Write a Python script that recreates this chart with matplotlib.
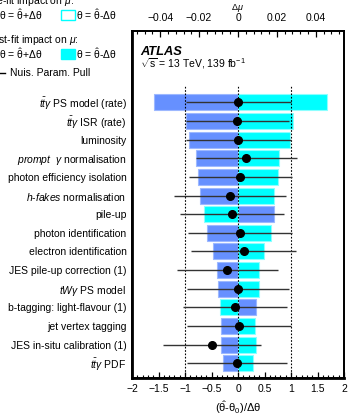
import matplotlib
matplotlib.use("Agg")
import matplotlib.pyplot as plt
from matplotlib.patches import Rectangle
from matplotlib.ticker import MultipleLocator, FuncFormatter

plt.rcParams['font.family'] = ['Liberation Sans', 'DejaVu Sans']
plt.rcParams['mathtext.fontset'] = 'custom'
plt.rcParams['mathtext.rm'] = 'Liberation Sans'
plt.rcParams['mathtext.it'] = 'Liberation Sans:italic'
plt.rcParams['mathtext.bf'] = 'Liberation Sans:bold'

# Nuisance parameters, top to bottom
params = [
    r"$t\bar{t}\gamma$ PS model (rate)",
    r"$t\bar{t}\gamma$ ISR (rate)",
    "luminosity",
    r"$prompt$  $\gamma$ normalisation",
    "photon efficiency isolation",
    r"$h$-$fakes$ normalisation",
    "pile-up",
    "photon identification",
    "electron identification",
    "JES pile-up correction (1)",
    r"$tW\gamma$ PS model",
    "b-tagging: light-flavour (1)",
    "jet vertex tagging",
    "JES in-situ calibration (1)",
    r"$t\bar{t}\gamma$ PDF",
]

# Post-fit impact on mu (signed), for theta = theta_hat + dtheta / theta_hat - dtheta
impact_up = [-0.0433, -0.0269, -0.0250, -0.0215, -0.0205, -0.0195, 0.0183, -0.0161,
             -0.0130, -0.0106, -0.0105, 0.0095, -0.0086, -0.0087, -0.0079]
impact_down = [0.0456, 0.0285, 0.0268, 0.0213, 0.0208, 0.0186, -0.0176, 0.0169,
               0.0135, 0.0109, 0.0108, -0.0094, 0.0089, 0.0092, 0.0078]

# Pulls and their errors
pulls = [0.00, -0.01, 0.00, 0.16, 0.04, -0.16, -0.12, 0.04, 0.11, -0.21, 0.00, -0.05, 0.01, -0.49, -0.01]
err_lo = [0.98, 0.97, 0.98, 0.95, 0.96, 1.05, 0.97, 0.99, 0.99, 0.95, 0.96, 0.98, 0.98, 0.93, 0.96]
err_hi = [1.00, 0.98, 1.00, 0.95, 0.98, 1.07, 0.98, 0.97, 0.98, 0.96, 0.96, 0.98, 0.99, 0.93, 0.94]

blue = "#6690ff"
blue_edge = "#9db8ff"
cyan = "#00ffff"
cyan_edge = "#8cffff"

n = len(params)
ypos = [n - 1 - i for i in range(n)]

W, H = 348, 416
fig = plt.figure(figsize=(W / 100, H / 100), dpi=100)
ax = fig.add_axes([132 / W, 38 / H, 212 / W, 347 / H])
ax2 = ax.twiny()
ax.set_zorder(ax2.get_zorder() + 1)
ax.patch.set_visible(False)

# impact bars on the top (delta mu) axis
ax2.barh(ypos, impact_up, height=0.86, color=blue, edgecolor=blue_edge, linewidth=0.8)
ax2.barh(ypos, impact_down, height=0.86, color=cyan, edgecolor=cyan_edge, linewidth=0.8)
ax2.set_xlim(-0.0545, 0.0545)
ax2.xaxis.set_major_locator(MultipleLocator(0.02))
ax2.xaxis.set_minor_locator(MultipleLocator(0.004))
ax2.xaxis.set_major_formatter(FuncFormatter(lambda v, p: "0" if abs(v) < 1e-9 else f"{v:.2f}".replace("-", "\u2212")))
ax2.tick_params(axis='x', which='major', direction='in', length=4.5, width=0.9, labelsize=7.5, pad=5.5)
ax2.tick_params(axis='x', which='minor', direction='in', length=2.2, width=0.8)

# pulls
for x0 in (-1, 0, 1):
    ax.plot([x0, x0], [-0.79, 14.9], color='black', linestyle=(0, (1.5, 1.5)), linewidth=0.8, zorder=2)
ax.errorbar(pulls, ypos, xerr=[err_lo, err_hi], fmt='o', color='black', ecolor='#333333',
            elinewidth=1.0, markersize=5.5, capsize=0, zorder=3)

ax.set_xlim(-2, 2)
ax.set_ylim(-0.79, 17.83)
ax.xaxis.set_major_locator(MultipleLocator(0.5))
ax.xaxis.set_minor_locator(MultipleLocator(0.1))
ax.xaxis.set_major_formatter(FuncFormatter(lambda v, p: f"{v:g}".replace("-", "\u2212")))
ax.tick_params(axis='x', which='major', direction='in', length=4.5, width=0.9, labelsize=7.5, pad=4)
ax.tick_params(axis='x', which='minor', direction='in', length=2.2, width=0.8)
ax.set_yticks(ypos)
ax.set_yticklabels(params)
ax.tick_params(axis='y', length=0, labelsize=7.5, pad=4)
ax.set_xlabel(r"$(\hat{\mathrm{\theta}}$-$\mathrm{\theta}_0)/\Delta\mathrm{\theta}$", fontsize=8, labelpad=4)

for a in (ax, ax2):
    for s in a.spines.values():
        s.set_linewidth(1.3)
ax.spines['left'].set_linewidth(2.0)
ax.spines['bottom'].set_linewidth(2.0)

ax.text(0.04, 0.94, "ATLAS", transform=ax.transAxes, fontsize=9.3, fontweight='bold',
        style='italic', va='center')
ax.text(0.04, 0.905, r"$\sqrt{\mathrm{s}}$ = 13 TeV, 139 fb$^{-1}$", transform=ax.transAxes,
        fontsize=7.5, va='center')

# delta mu label above the top axis
fig.text(237 / W, 1 - 8 / H, r"$\Delta\mu$", fontsize=6.5, ha='center', va='center')

# legend (partly outside the figure)
def ftext(x, y, s):
    fig.text(x / W, 1 - y / H, s, fontsize=7.5, ha='left', va='center')

def fbox(x, y, fc, ec):
    fig.add_artist(Rectangle((x / W, 1 - (y + 5) / H), 14 / W, 10 / H, transform=fig.transFigure,
                             facecolor=fc, edgecolor=ec, linewidth=1.0))

th_up = r"$\mathrm{\theta}$ = $\hat{\mathrm{\theta}}$+$\Delta\mathrm{\theta}$"
th_dn = r"$\mathrm{\theta}$ = $\hat{\mathrm{\theta}}$-$\Delta\mathrm{\theta}$"
ftext(-14, 1, r"Pre-fit impact on $\mu$:")
fbox(-17, 15, 'none', blue)
ftext(-1, 15, th_up)
fbox(61, 15, 'none', cyan)
ftext(76, 15, th_dn)
ftext(-14, 40, r"Post-fit impact on $\mu$:")
fbox(-17, 54, blue, blue)
ftext(-1, 54, th_up)
fbox(61, 54, cyan, cyan)
ftext(76, 54, th_dn)
fig.add_artist(plt.Line2D([-10 / W, 5 / W], [1 - 73 / H, 1 - 73 / H], transform=fig.transFigure,
                          color='black', linewidth=1.0))
ftext(10, 73, "Nuis. Param. Pull")

fig.savefig("out.png", dpi=100)
